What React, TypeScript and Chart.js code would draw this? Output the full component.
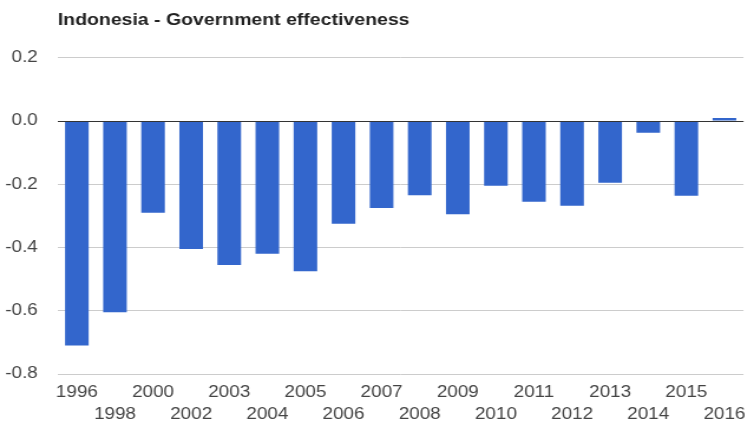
import React, { useEffect, useRef } from "react";
import { Chart, registerables } from "chart.js";

Chart.register(...registerables);

const years = ["1996","1998","2000","2002","2003","2004","2005","2006","2007","2008","2009","2010","2011","2012","2013","2014","2015","2016"];
const effectiveness = [-0.71,-0.605,-0.29,-0.405,-0.455,-0.42,-0.475,-0.325,-0.275,-0.235,-0.295,-0.205,-0.255,-0.268,-0.195,-0.037,-0.236,0.01];
const yMin = -0.8;
const yMax = 0.2;
const yStep = 0.2;
const titleText = "Indonesia - Government effectiveness";

const STRETCH = 1.18;
const W = 755;
const H = 421;
const CW = Math.round(W / STRETCH);

const zeroLinePlugin = {
  id: "zeroLine",
  afterDatasetsDraw(chart: any) {
    const y = chart.scales.y.getPixelForValue(0);
    const { left, right } = chart.chartArea;
    const ctx = chart.ctx;
    ctx.save();
    ctx.strokeStyle = "#333333";
    ctx.lineWidth = 1.2;
    ctx.beginPath();
    ctx.moveTo(left, Math.round(y) + 0.5);
    ctx.lineTo(right, Math.round(y) + 0.5);
    ctx.stroke();
    ctx.restore();
  },
};

export default function App() {
  const ref = useRef<HTMLCanvasElement | null>(null);
  useEffect(() => {
    if (!ref.current) return;
    const chart = new Chart(ref.current, {
      type: "bar",
      data: {
        labels: years,
        datasets: [
          {
            data: effectiveness,
            backgroundColor: "#3366cc",
            borderWidth: 0,
            barPercentage: 0.62,
            categoryPercentage: 1,
          },
        ],
      },
      options: {
        responsive: false,
        animation: false,
        devicePixelRatio: 1,
        layout: { autoPadding: false, padding: { left: 4, right: 2, top: 0, bottom: 0 } },
        plugins: {
          legend: { display: false },
          tooltip: { enabled: false },
          title: {
            display: true,
            text: titleText,
            align: "start",
            fullSize: false,
            color: "#222222",
            font: { family: "Arial, 'Liberation Sans', sans-serif", size: 16.5, weight: "bold" },
            padding: { top: 11, bottom: 27 },
          },
        },
        scales: {
          x: {
            grid: { display: false, drawTicks: false },
            border: { display: false },
            afterFit: (s: any) => { s.height = 47; },
            ticks: {
              autoSkip: false,
              maxRotation: 0,
              minRotation: 0,
              padding: 8,
              color: "#444444",
              font: { family: "Arial, 'Liberation Sans', sans-serif", size: 16, lineHeight: 1.34 },
              callback: (_v: any, i: number) => (i % 2 === 0 ? [years[i], ""] : ["", years[i]]),
            },
          },
          y: {
            min: yMin,
            max: yMax,
            border: { display: false },
            afterFit: (s: any) => { s.width = 45; },
            grid: {
              drawTicks: false,
              color: (ctx: any) => (Math.abs(ctx.tick?.value) < 1e-9 ? "#333333" : "#cccccc"),
            },
            ticks: {
              stepSize: yStep,
              padding: 17,
              color: "#444444",
              font: { family: "Arial, 'Liberation Sans', sans-serif", size: 16 },
              callback: (v: any) => Number(v).toFixed(1),
            },
          },
        },
      },
      plugins: [zeroLinePlugin],
    });
    return () => chart.destroy();
  }, []);
  return (
    <div style={{ position: "absolute", left: 0, top: 0, width: W, height: H, overflow: "hidden", background: "#fff" }}>
      <canvas
        ref={ref}
        width={CW}
        height={H}
        style={{ width: CW, height: H, transform: `scaleX(${STRETCH})`, transformOrigin: "0 0", display: "block" }}
      />
    </div>
  );
}
